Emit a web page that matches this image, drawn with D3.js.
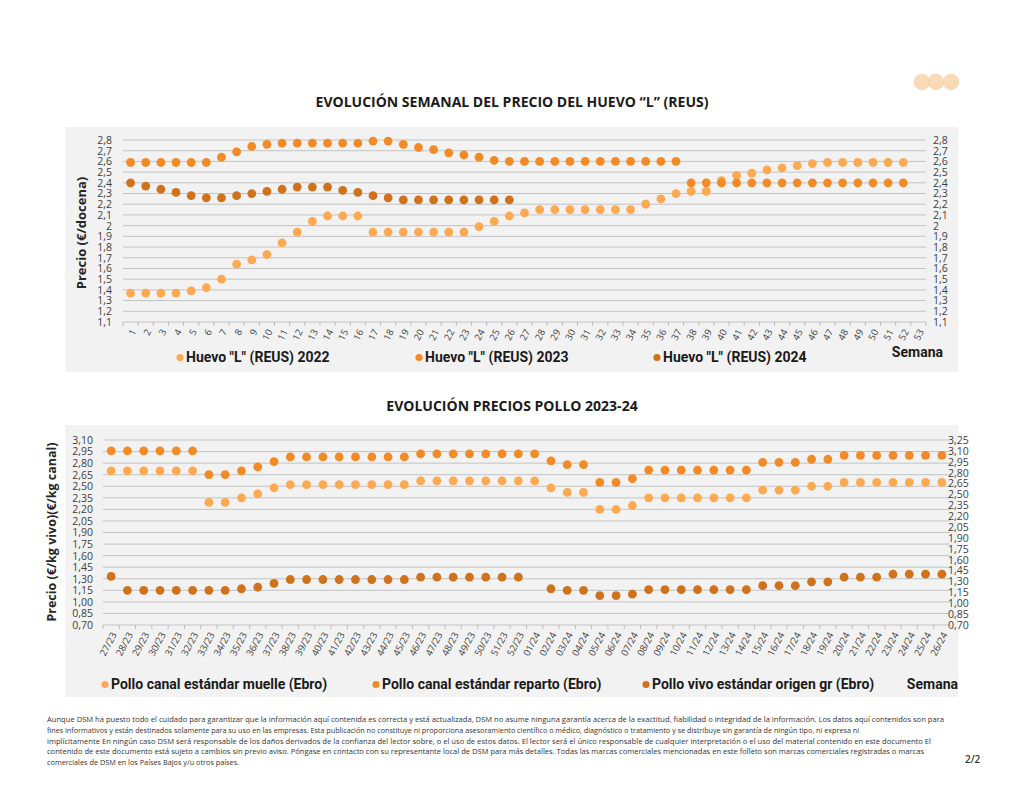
<!DOCTYPE html>
<html lang="es">
<head>
<meta charset="UTF-8">
<title>Evolución precios huevo y pollo</title>
<script src="https://d3js.org/d3.v7.min.js"></script>
<style>
  body { margin: 0; background: #fff; }
  svg text { font-family: "Open Sans", "DejaVu Sans", sans-serif; }
  .title { font-weight: 700; font-size: 14px; fill: #1a1a1a; }
  .tick-y { font-size: 10.5px; fill: #404040; }
  .tick-x { font-size: 9.5px; fill: #404040; }
  .ytitle { font-weight: 700; font-size: 13px; fill: #262626; }
  .legend { font-family: "Liberation Sans Narrow", Roboto, sans-serif !important; font-weight: 700; font-size: 14px; fill: #1a1a1a; }
  .foot { font-size: 7.3px; fill: #333; }
</style>
</head>
<body>
<div id="chart"></div>
<script>
// ---- datos: huevo "L" (REUS), €/docena ----
const semanas = ["1","2","3","4","5","6","7","8","9","10","11","12","13","14","15","16","17","18","19","20",
  "21","22","23","24","25","26","27","28","29","30","31","32","33","34","35","36","37","38","39","40",
  "41","42","43","44","45","46","47","48","49","50","51","52","53"];
const huevo2022 = [1.37,1.37,1.37,1.37,1.39,1.42,1.50,1.64,1.68,1.73,1.84,1.94,2.04,2.09,2.09,2.09,
  1.94,1.94,1.94,1.94,1.94,1.94,1.94,1.99,2.04,2.09,2.12,2.15,2.15,2.15,2.15,2.15,2.15,2.15,2.20,2.25,
  2.30,2.32,2.32,2.42,2.47,2.49,2.52,2.54,2.56,2.58,2.59,2.59,2.59,2.59,2.59,2.59,null];
const huevo2023 = [2.59,2.59,2.59,2.59,2.59,2.59,2.64,2.69,2.74,2.76,2.77,2.77,2.77,2.77,2.77,2.77,
  2.79,2.79,2.76,2.73,2.71,2.68,2.66,2.64,2.61,2.60,2.60,2.60,2.60,2.60,2.60,2.60,2.60,2.60,2.60,2.60,
  2.60,2.40,2.40,2.40,2.40,2.40,2.40,2.40,2.40,2.40,2.40,2.40,2.40,2.40,2.40,2.40,null];
const huevo2024 = [2.40,2.37,2.34,2.31,2.28,2.26,2.26,2.28,2.30,2.32,2.34,2.36,2.36,2.36,2.33,2.31,
  2.28,2.26,2.24,2.24,2.24,2.24,2.24,2.24,2.24,2.24,null,null,null,null,null,null,null,null,null,null,
  null,null,null,null,null,null,null,null,null,null,null,null,null,null,null,null,null];
const huevoTicks = [1.1,1.2,1.3,1.4,1.5,1.6,1.7,1.8,1.9,2.0,2.1,2.2,2.3,2.4,2.5,2.6,2.7,2.8];
const huevoNombres = ["Huevo \"L\" (REUS) 2022", "Huevo \"L\" (REUS) 2023", "Huevo \"L\" (REUS) 2024"];

// ---- datos: pollo 2023-24 ----
const semanasPollo = ["27/23","28/23","29/23","30/23","31/23","32/23","33/23","34/23","35/23","36/23",
  "37/23","38/23","39/23","40/23","41/23","42/23","43/23","44/23","45/23","46/23","47/23","48/23",
  "49/23","50/23","51/23","52/23","01/24","02/24","03/24","04/24","05/24","06/24","07/24","08/24",
  "09/24","10/24","11/24","12/24","13/24","14/24","15/24","16/24","17/24","18/24","19/24","20/24",
  "21/24","22/24","23/24","24/24","25/24","26/24"];
const polloMuelle = [2.70,2.70,2.70,2.70,2.70,2.70,2.29,2.29,2.35,2.40,2.48,2.52,2.52,2.52,2.52,2.52,
  2.52,2.52,2.52,2.57,2.57,2.57,2.57,2.57,2.57,2.57,2.57,2.48,2.42,2.42,2.20,2.20,2.25,2.35,2.35,2.35,
  2.35,2.35,2.35,2.35,2.45,2.45,2.45,2.50,2.50,2.55,2.55,2.55,2.55,2.55,2.55,2.55];
const polloReparto = [2.96,2.96,2.96,2.96,2.96,2.96,2.65,2.65,2.70,2.75,2.82,2.88,2.88,2.88,2.88,2.88,
  2.88,2.88,2.88,2.92,2.92,2.92,2.92,2.92,2.92,2.92,2.92,2.83,2.78,2.78,2.55,2.55,2.60,2.71,2.71,2.71,
  2.71,2.71,2.71,2.71,2.81,2.81,2.81,2.85,2.85,2.90,2.90,2.90,2.90,2.90,2.90,2.90];
const polloVivo = [1.33,1.15,1.15,1.15,1.15,1.15,1.15,1.15,1.17,1.19,1.24,1.29,1.29,1.29,1.29,1.29,
  1.29,1.29,1.29,1.32,1.32,1.32,1.32,1.32,1.32,1.32,null,1.17,1.15,1.15,1.08,1.08,1.10,1.16,1.16,1.16,
  1.16,1.16,1.16,1.16,1.21,1.21,1.21,1.26,1.26,1.32,1.32,1.32,1.36,1.36,1.36,1.36];
const polloTicks = [0.70,0.85,1.00,1.15,1.30,1.45,1.60,1.75,1.90,2.05,2.20,2.35,2.50,2.65,2.80,2.95,3.10];
const polloTicksDcha = [0.70,0.85,1.00,1.15,1.30,1.45,1.60,1.75,1.90,2.05,2.20,2.35,2.50,2.65,2.80,2.95,3.10,3.25];
const polloNombres = ["Pollo canal estándar muelle (Ebro)", "Pollo canal estándar reparto (Ebro)", "Pollo vivo estándar origen gr (Ebro)"];

const colores = ["#FDA952", "#F28A25", "#D0721B"];

const aviso = [
  "Aunque DSM ha puesto todo el cuidado para garantizar que la información aquí contenida es correcta y está actualizada, DSM no asume ninguna garantía acerca de la exactitud, fiabilidad o integridad de la información. Los datos aquí contenidos son para",
  "fines informativos y están destinados solamente para su uso en las empresas. Esta publicación no constituye ni proporciona asesoramiento científico o médico, diagnóstico o tratamiento y se distribuye sin garantía de ningún tipo, ni expresa ni",
  "implícitamente En ningún caso DSM será responsable de los daños derivados de la confianza del lector sobre, o el uso de estos datos. El lector será el único responsable de cualquier interpretación o el uso del material contenido en este documento El",
  "contenido de este documento está sujeto a cambios sin previo aviso. Póngase en contacto con su representante local de DSM para más detalles. Todas las marcas comerciales mencionadas en este folleto son marcas comerciales registradas o marcas",
  "comerciales de DSM en los Países Bajos y/u otros países."
];

const es = d3.formatLocale({decimal: ",", thousands: ".", grouping: [3], currency: ["", "€"]});

const svg = d3.select("#chart").append("svg")
  .attr("width", 1024).attr("height", 791);

// circulitos de la esquina
[922, 936, 951].forEach(cx => {
  svg.append("circle").attr("cx", cx).attr("cy", 82).attr("r", 8.3)
    .attr("fill", "#F8D3AC").attr("fill-opacity", 0.85);
});

function drawChart(cfg) {
  const g = svg.append("g");
  g.append("rect")
    .attr("x", cfg.panel[0]).attr("y", cfg.panel[1])
    .attr("width", cfg.panel[2]).attr("height", cfg.panel[3])
    .attr("fill", "#f2f2f2");

  svg.append("text").attr("class", "title")
    .attr("x", 512).attr("y", cfg.titleY).attr("text-anchor", "middle")
    .text(cfg.title);

  const x = d3.scaleBand().domain(cfg.cats).range([cfg.x0, cfg.x1]).padding(0);
  const y = d3.scaleLinear().domain(cfg.domain).range([cfg.yb, cfg.yt]);
  const y2 = d3.scaleLinear().domain(cfg.domain2).range([cfg.yb, cfg.yt]);

  // rejilla
  g.selectAll(".grid").data(cfg.ticks).join("line")
    .attr("x1", cfg.x0).attr("x2", cfg.x1)
    .attr("y1", d => y(d)).attr("y2", d => y(d))
    .attr("stroke", "#c3c3c3").attr("stroke-width", 1);

  // eje izquierdo
  g.append("g").attr("transform", `translate(${cfg.yLabelX},0)`)
    .call(d3.axisLeft(y).tickValues(cfg.ticks).tickSize(0).tickPadding(0).tickFormat(es.format(cfg.fmt)))
    .call(a => a.select(".domain").remove())
    .selectAll("text").attr("class", "tick-y").attr("font-family", null).attr("font-size", null);

  // eje derecho
  g.append("g").attr("transform", `translate(${cfg.yLabelX2},0)`)
    .call(d3.axisRight(y2).tickValues(cfg.ticks2).tickSize(0).tickPadding(0).tickFormat(es.format(cfg.fmt)))
    .call(a => a.select(".domain").remove())
    .selectAll("text").attr("class", "tick-y").attr("font-family", null).attr("font-size", null);

  // marcas del eje x en los límites de cada banda
  const bordes = cfg.cats.map(c => x(c)).concat([cfg.x1]);
  g.selectAll(".xt").data(bordes).join("line")
    .attr("x1", d => d).attr("x2", d => d)
    .attr("y1", cfg.yb).attr("y2", cfg.yb + 4)
    .attr("stroke", "#bdbdbd");

  // etiquetas x
  g.selectAll(".xl").data(cfg.cats).join("text")
    .attr("class", "tick-x")
    .attr("text-anchor", "end")
    .attr("transform", d => `translate(${x(d) + x.bandwidth() / 2 + 3},${cfg.yb + 8}) rotate(-62)`)
    .attr("dy", "0.35em")
    .text(d => d);

  // título eje y
  svg.append("text").attr("class", "ytitle")
    .attr("transform", `translate(${cfg.yTitle[0]},${cfg.yTitle[1]}) rotate(-90)`)
    .attr("text-anchor", "middle").attr("dy", "0.35em")
    .style("font-size", cfg.yTitleSize)
    .text(cfg.yTitleText);

  // puntos
  cfg.series.forEach((serie, i) => {
    g.selectAll(null).data(serie.map((v, j) => ({v, c: cfg.cats[j]})).filter(d => d.v != null))
      .join("circle")
      .attr("cx", d => x(d.c) + x.bandwidth() / 2)
      .attr("cy", d => y(d.v))
      .attr("r", 4.4)
      .attr("fill", colores[i]);
  });

  // leyenda
  cfg.names.forEach((n, i) => {
    g.append("circle").attr("cx", cfg.legX[i]).attr("cy", cfg.legY - 4.5).attr("r", 3.6).attr("fill", colores[i]);
    g.append("text").attr("class", "legend").attr("x", cfg.legX[i] + 6).attr("y", cfg.legY).text(n);
  });
  g.append("text").attr("class", "legend").attr("x", cfg.semana[0]).attr("y", cfg.semana[1])
    .attr("text-anchor", "end").text("Semana");
}

drawChart({
  title: "EVOLUCIÓN SEMANAL DEL PRECIO DEL HUEVO “L” (REUS)", titleY: 107,
  panel: [65, 127, 893, 245],
  cats: semanas, x0: 123, x1: 926, yt: 140, yb: 322,
  domain: [1.1, 2.8], domain2: [1.1, 2.8],
  ticks: huevoTicks, ticks2: huevoTicks, fmt: ".1~f",
  yLabelX: 112, yLabelX2: 933,
  yTitle: [81, 233], yTitleText: "Precio (€/docena)", yTitleSize: "13px",
  series: [huevo2022, huevo2023, huevo2024], names: huevoNombres,
  legX: [180, 419, 657], legY: 362, semana: [943, 357]
});

drawChart({
  title: "EVOLUCIÓN PRECIOS POLLO 2023-24", titleY: 411,
  panel: [65, 425, 893, 272],
  cats: semanasPollo, x0: 103, x1: 950, yt: 440, yb: 625,
  domain: [0.70, 3.10], domain2: [0.70, 3.25],
  ticks: polloTicks, ticks2: polloTicksDcha, fmt: ".2f",
  yLabelX: 93, yLabelX2: 948,
  yTitle: [52, 532], yTitleText: "Precio (€/kg vivo)(€/kg canal)", yTitleSize: "12.5px",
  series: [polloMuelle, polloReparto, polloVivo], names: polloNombres,
  legX: [105, 376, 646], legY: 689, semana: [958, 689]
});

// aviso legal
const anchos = [897, 812, 884, 877];
aviso.forEach((t, i) => {
  const el = svg.append("text").attr("class", "foot")
    .attr("x", 47).attr("y", 722 + i * 10.8).text(t);
  if (i < anchos.length) el.attr("textLength", anchos[i]).attr("lengthAdjust", "spacingAndGlyphs");
});
svg.append("text").attr("x", 965).attr("y", 763)
  .style("font-size", "10px").style("font-weight", 600).attr("fill", "#333").text("2/2");
</script>
</body>
</html>
